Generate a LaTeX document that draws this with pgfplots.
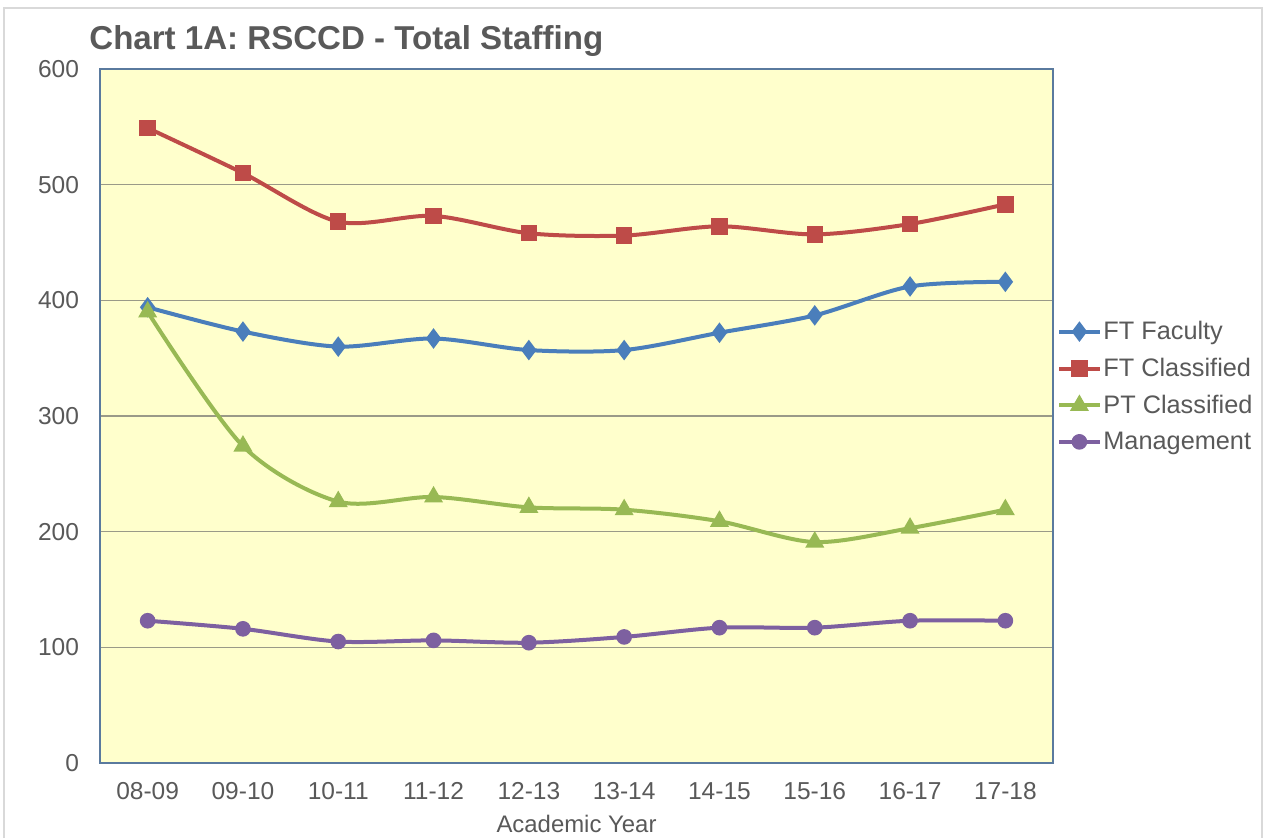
\documentclass[border=0pt]{standalone}
\usepackage{pgfplots}
\pgfplotsset{compat=1.18}
\usepackage{fontspec}
\setmainfont{Liberation Sans}

\definecolor{txtgray}{HTML}{595959}
\definecolor{bgyellow}{HTML}{FFFFCC}
\definecolor{gridc}{HTML}{9A9A88}
\definecolor{axisc}{HTML}{5A7A9E}
\definecolor{cfac}{HTML}{4A7EBB}
\definecolor{ccls}{HTML}{BE4B48}
\definecolor{cpt}{HTML}{98B954}
\definecolor{cman}{HTML}{7D60A0}

\begin{document}
\begin{tikzpicture}
% page size and light outer frame (1px = 0.5bp); bottom edge is cut off in the source
\path (0,0) rectangle (632.5bp,419bp);
\draw[gray!30, line width=0.8bp] (2bp,0bp) -- (2bp,415bp) -- (631bp,415bp) -- (631bp,0bp);
\node[anchor=base west, font=\bfseries\fontsize{16.6}{19}\selectfont, text=txtgray, inner sep=0pt]
  at (44.5bp,394bp) {Chart 1A: RSCCD - Total Staffing};

\begin{axis}[
    at={(50bp,37.5bp)}, anchor=south west,
    scale only axis,
    width=476.5bp, height=347bp,
    xmin=-0.5, xmax=9.5,
    ymin=0, ymax=600,
    xtick={0,...,9},
    xticklabels={08-09,09-10,10-11,11-12,12-13,13-14,14-15,15-16,16-17,17-18},
    ytick={0,100,...,600},
    ymajorgrids,
    major grid style={gridc, line width=0.8bp},
    major tick length=0pt,
    axis background/.style={fill=bgyellow},
    axis line style={axisc, line width=0.9bp},
    tick label style={font=\fontsize{12.3}{14}\selectfont, text=txtgray},
    /pgf/number format/assume math mode=true,
    yticklabel style={xshift=-7bp},
    xticklabel style={yshift=-5.5bp, text height=9.2bp, text depth=0pt},
    xlabel={Academic Year},
    xlabel style={font=\fontsize{12}{14}\selectfont, text=txtgray, yshift=-1bp},
    legend style={at={(1.0,0.5425)}, anchor=west, xshift=2bp, draw=none, fill=none,
        font=\fontsize{12.7}{15}\selectfont, text=txtgray,
        row sep=3.8bp, inner xsep=0pt, inner ysep=0pt,
        nodes={inner xsep=1bp}},
    legend cell align=left,
    legend image code/.code={
        \draw[mark repeat=2, mark phase=2, #1] plot coordinates {(0bp,0bp) (10bp,0bp) (20bp,0bp)};
    },
    every axis plot/.append style={line width=2bp, smooth, tension=0.5},
    clip=false,
]
\addplot[color=cfac, mark=diamond*, mark size=3.5bp] coordinates {
    (0,394) (1,373) (2,360) (3,367) (4,357) (5,357) (6,372) (7,387) (8,412) (9,416)
};
\addplot[color=ccls, mark=square*, mark size=3.1bp] coordinates {
    (0,549) (1,510) (2,468) (3,473) (4,458) (5,456) (6,464) (7,457) (8,466) (9,483)
};
\addplot[color=cpt, mark=triangle*, mark size=3.5bp] coordinates {
    (0,390) (1,274) (2,226) (3,230) (4,221) (5,219) (6,209) (7,191) (8,203) (9,219)
};
\addplot[color=cman, mark=*, mark size=2.9bp] coordinates {
    (0,123) (1,116) (2,105) (3,106) (4,104) (5,109) (6,117) (7,117) (8,123) (9,123)
};
\legend{FT Faculty, FT Classified, PT Classified, Management}
\end{axis}
\end{tikzpicture}
\end{document}
